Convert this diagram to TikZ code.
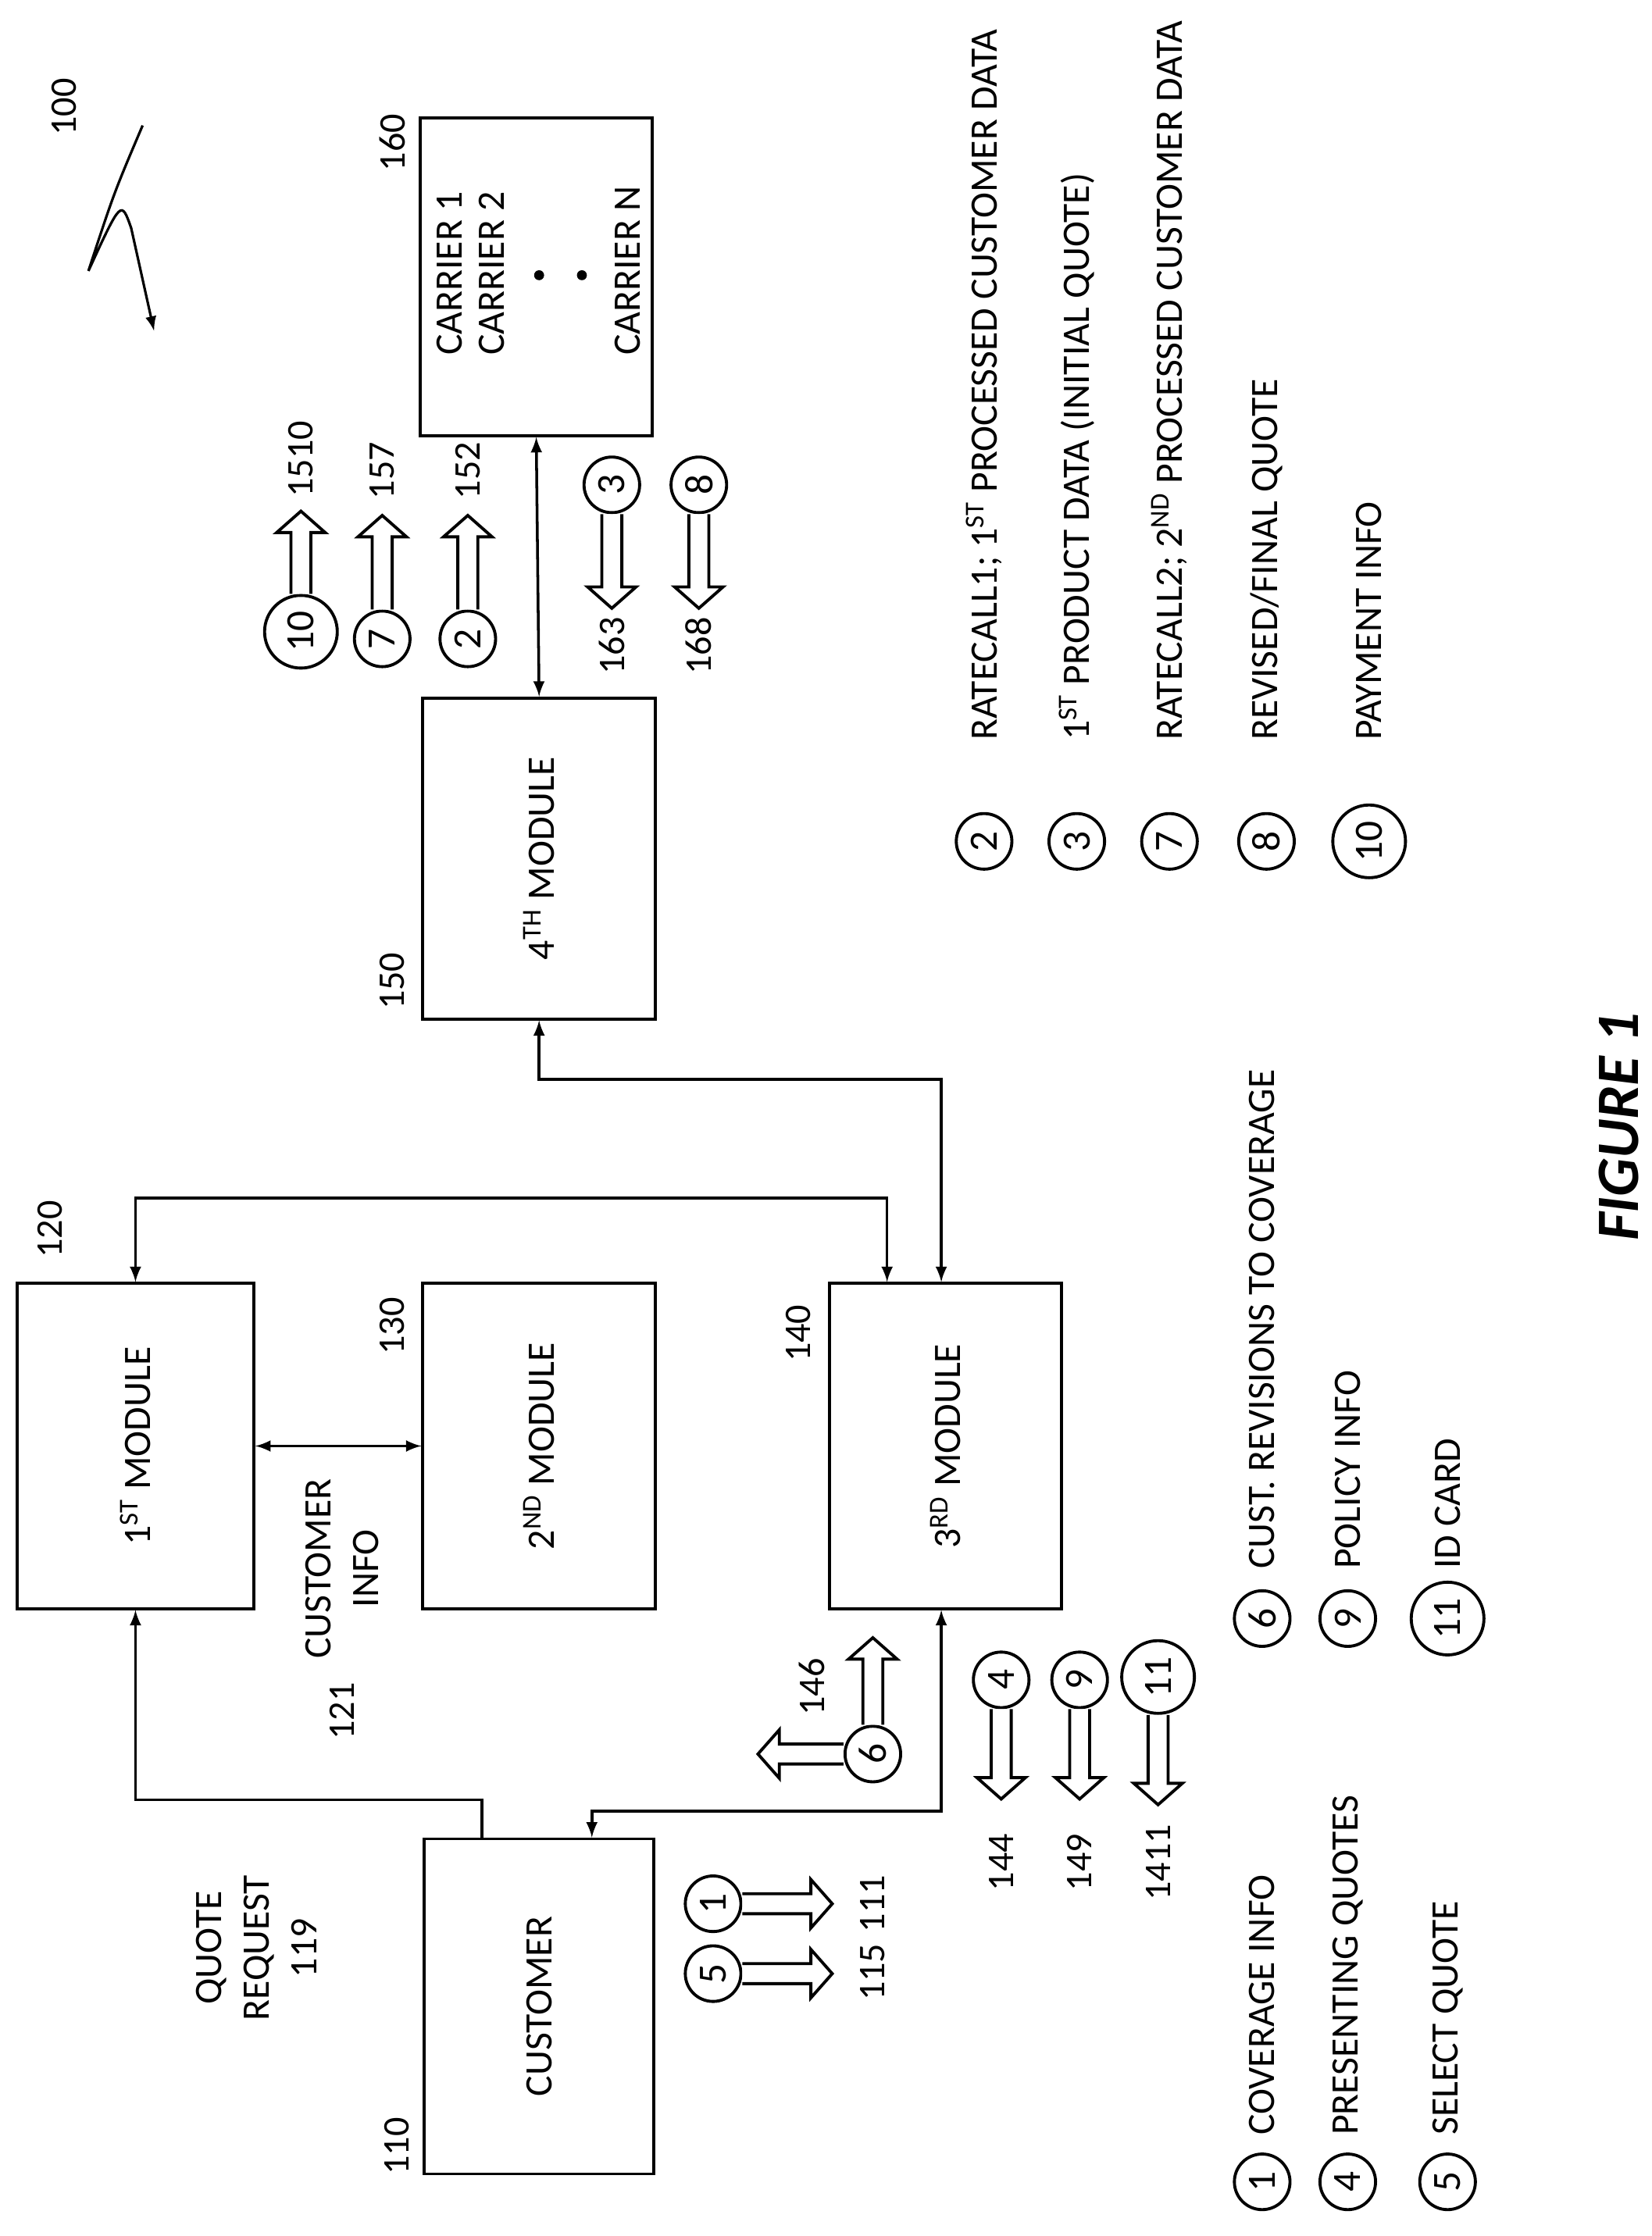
\documentclass[tikz,border=0pt]{standalone}
\usepackage{fontspec}
\setmainfont{Carlito}
\begin{document}
\begin{tikzpicture}[x=0.02cm,y=-0.02cm,line width=1.2pt,
  txt/.style={rotate=90,font=\fontsize{15.5}{19}\selectfont,inner sep=1pt},
  lbl/.style={rotate=90,font=\fontsize{15}{18}\selectfont,inner sep=1pt},
  num/.style={draw,circle,inner sep=0pt,minimum size=0.78cm,rotate=90,font=\fontsize{16}{19}\selectfont},
  numb/.style={num,minimum size=1.02cm},
  conn/.style={-latex,line width=1.1pt},
  dconn/.style={latex-latex,line width=1.1pt}]
\newcommand\barrow[3]{\begin{scope}[shift={(#1)},rotate=#2]
 \draw[line width=1.2pt,fill=white] (0,-7)--(#3-15,-7)--(#3-15,-17)--(#3,0)--(#3-15,17)--(#3-15,7)--(0,7);\end{scope}}
\useasboundingbox (0,0) rectangle (1158,1568);
% boxes
\node[draw,minimum width=3.32cm,minimum height=4.56cm] (m1) at (95,1014) {};
\node[draw,minimum width=3.26cm,minimum height=4.56cm] (m2) at (378,1014) {};
\node[draw,minimum width=3.26cm,minimum height=4.56cm] (m3) at (663,1014) {};
\node[draw,minimum width=3.26cm,minimum height=4.5cm] (m4) at (378,602) {};
\node[draw,minimum width=3.26cm,minimum height=4.46cm] (car) at (376,194) {};
\node[draw,minimum width=3.22cm,minimum height=4.7cm] (cu) at (378,1407) {};
\node[txt] at (m1) {1\textsuperscript{ST} MODULE};
\node[txt] at (m2) {2\textsuperscript{ND} MODULE};
\node[txt] at (m3) {3\textsuperscript{RD} MODULE};
\node[txt] at (m4) {4\textsuperscript{TH} MODULE};
\node[txt] at (cu) {CUSTOMER};
\node[txt,anchor=west] at (315,252) {CARRIER 1};
\node[txt,anchor=west] at (345,252) {CARRIER 2};
\node[txt,anchor=west] at (440,252) {CARRIER N};
\fill (378,193) circle (3.5) (408,193) circle (3.5);
% labels
\node[lbl] at (35,862) {120};
\node[lbl] at (275,930) {130};
\node[lbl] at (560,935) {140};
\node[lbl] at (275,688) {150};
\node[lbl] at (275,100) {160};
\node[lbl] at (278,1505) {110};
\node[txt,align=center] at (180,1366) {QUOTE\\REQUEST\\119};
\node[txt,align=center] at (240,1100) {CUSTOMER\\INFO};
\node[lbl] at (240,1200) {121};
% connectors
\coordinate (q1) at (338,1262);
\coordinate (q2) at (95,1262);
\draw[conn] (cu.north -| q1) -- (q1) -- (q2) -- (m1.south -| q2);
\draw[dconn] (m1.east) -- (m2.west);
\coordinate (a1) at (95,840); \coordinate (a2) at (622,840);
\draw[dconn] (m1.north -| a1) -- (a1) -- (a2) -- (m3.north -| a2);
\coordinate (b1) at (378,757); \coordinate (b2) at (660,757);
\draw[dconn] (m4.south -| b1) -- (b1) -- (b2) -- (m3.north -| b2);
\coordinate (c1) at (660,1270); \coordinate (c2) at (415,1270);
\draw[dconn] (m3.south -| c1) -- (c1) -- (c2) -- (cu.north -| c2);
\draw[dconn] (car.south) -- (m4.north);
% block arrows near carrier
\node[numb] (c10) at (211,443) {10};
\node[num] (c7) at (268,448) {7};
\node[num] (c2) at (328,448) {2};
\node[num] (c3) at (429,340) {3};
\node[num] (c8) at (490,340) {8};
\barrow{c10.east}{90}{58}
\barrow{c7.east}{90}{66}
\barrow{c2.east}{90}{66}
\barrow{c3.west}{-90}{66}
\barrow{c8.west}{-90}{66}
\node[lbl] at (211,322) {1510};
\node[lbl] at (268,330) {157};
\node[lbl] at (328,330) {152};
\node[lbl] at (429,453) {163};
\node[lbl] at (490,453) {168};
% near customer / 3rd
\node[num] (n1) at (500,1335) {1};
\node[num] (n5) at (500,1384) {5};
\barrow{n1.south}{0}{63}
\barrow{n5.south}{0}{63}
\node[lbl] at (612,1335) {111};
\node[lbl] at (612,1383) {115};
\node[num] (n6) at (612,1230) {6};
\barrow{n6.east}{90}{61}
\barrow{n6.north}{180}{60}
\node[lbl] at (569,1183) {146};
\node[num] (n4) at (702,1178) {4};
\node[num] (n9) at (757,1178) {9};
\node[numb] (n11) at (812,1176) {11};
\barrow{n4.west}{-90}{63}
\barrow{n9.west}{-90}{63}
\barrow{n11.west}{-90}{63}
\node[lbl] at (702,1306) {144};
\node[lbl] at (757,1306) {149};
\node[lbl] at (812,1306) {1411};
% legends
\node[num] (l1) at (885,1530) {1};
\node[num] (l4) at (945,1530) {4};
\node[num] (l5) at (1015,1530) {5};
\node[txt,anchor=west] at (885,1500) {COVERAGE INFO};
\node[txt,anchor=west] at (945,1500) {PRESENTING QUOTES};
\node[txt,anchor=west] at (1015,1500) {SELECT QUOTE};
\node[num] (l6) at (885,1135) {6};
\node[num] (l9) at (945,1135) {9};
\node[numb] (l11) at (1015,1135) {11};
\node[txt,anchor=west] at (885,1103) {CUST. REVISIONS TO COVERAGE};
\node[txt,anchor=west] at (945,1103) {POLICY INFO};
\node[txt,anchor=west] at (1015,1103) {ID CARD};
\node[num] (r2) at (690,590) {2};
\node[num] (r3) at (755,590) {3};
\node[num] (r7) at (820,590) {7};
\node[num] (r8) at (888,590) {8};
\node[numb] (r10) at (960,590) {10};
\node[txt,anchor=west] at (690,522) {RATECALL1; 1\textsuperscript{ST} PROCESSED CUSTOMER DATA};
\node[txt,anchor=west] at (755,522) {1\textsuperscript{ST} PRODUCT DATA (INITIAL QUOTE)};
\node[txt,anchor=west] at (820,522) {RATECALL2; 2\textsuperscript{ND} PROCESSED CUSTOMER DATA};
\node[txt,anchor=west] at (888,522) {REVISED/FINAL QUOTE};
\node[txt,anchor=west] at (960,522) {PAYMENT INFO};
\node[rotate=90,font=\fontsize{24}{28}\selectfont\bfseries\itshape] at (1135,790) {FIGURE 1};
% 100
\node[lbl] at (45,75) {100};
\coordinate (z0) at (100,88); \coordinate (z1) at (62,190); \coordinate (z2) at (92,160); \coordinate (z3) at (108,232);
\draw[-latex,line width=1pt] (z0) .. controls (80,135) .. (z1) .. controls (85,140) .. (z2) -- (z3);
\end{tikzpicture}
\end{document}
